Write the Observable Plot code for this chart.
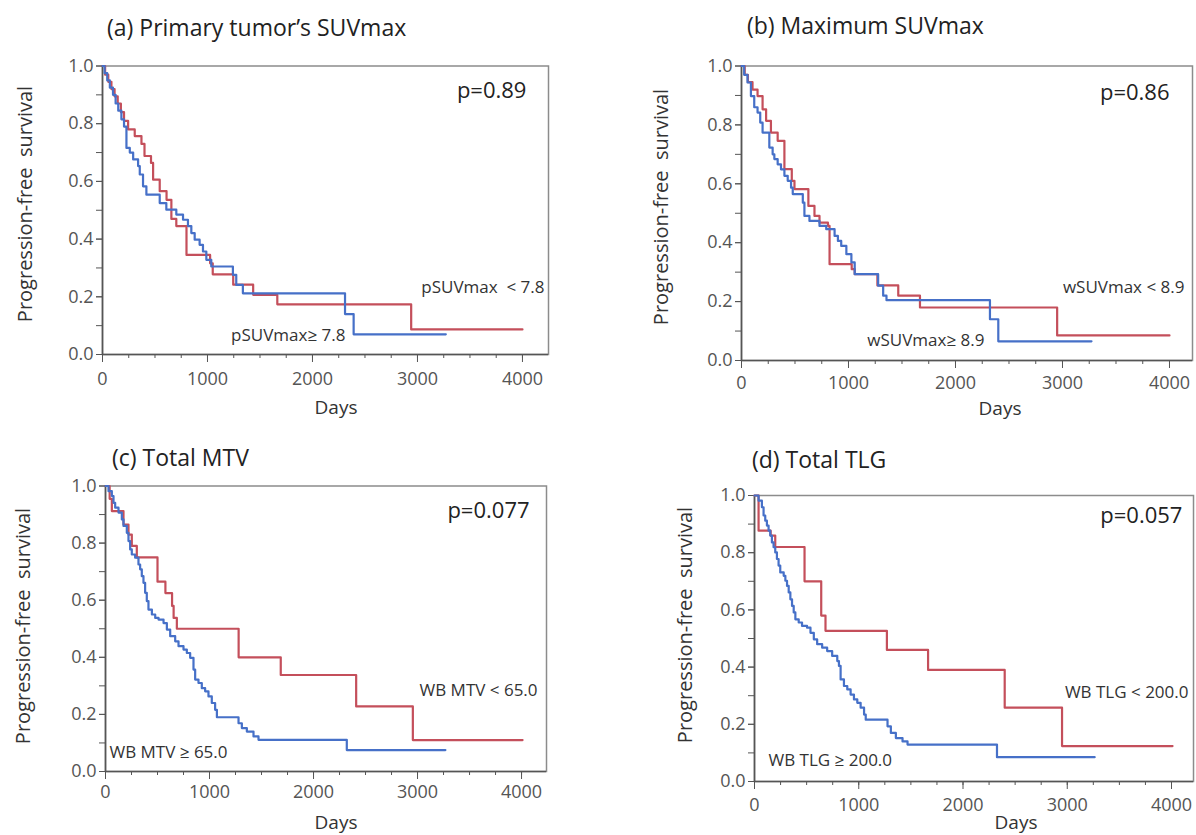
<!DOCTYPE html>
<html><head><meta charset="utf-8">
<script src="https://cdn.jsdelivr.net/npm/d3@7"></script>
<script src="https://cdn.jsdelivr.net/npm/@observablehq/plot@0.6"></script>
<style>
body{margin:0;background:#fff;}
#root{position:relative;width:1196px;height:835px;overflow:hidden;font-family:"Open Sans",Lato,sans-serif;background:#fff;}
.cell{position:absolute;}
.title{position:absolute;font-size:23px;color:#222;white-space:pre;line-height:1;transform:translateY(-50%);}
.ylab{position:absolute;font-size:20px;color:#333;white-space:pre;line-height:1;transform:translate(-50%,-50%) rotate(-90deg);}
.xlab{position:absolute;font-size:19px;color:#333;line-height:1;transform:translate(-50%,-50%);}
</style></head><body><div id="root"></div>
<script>
// ---- data: [days, progression-free survival] step points ----
const aLow = [[0,1],[25,0.97],[55,0.945],[85,0.92],[115,0.895],[145,0.87],[175,0.84],[205,0.81],[244,0.78],[307,0.757],[371,0.73],[400,0.688],[462,0.664],[482,0.606],[545,0.566],[610,0.536],[656,0.47],[703,0.445],[800,0.345],[1025,0.316],[1050,0.278],[1245,0.242],[1435,0.207],[1665,0.174],[2940,0.087],[4000,0.087]];
const aHigh = [[0,1],[20,0.975],[45,0.95],[70,0.925],[100,0.90],[125,0.87],[150,0.845],[180,0.815],[205,0.79],[228,0.716],[260,0.70],[292,0.676],[339,0.653],[355,0.624],[386,0.583],[418,0.554],[545,0.525],[608,0.502],[703,0.485],[767,0.467],[814,0.445],[846,0.421],[878,0.398],[925,0.38],[957,0.357],[989,0.328],[1036,0.305],[1242,0.276],[1274,0.241],[1337,0.212],[2310,0.14],[2392,0.07],[3270,0.07]];
const bLow = [[0,1],[30,0.97],[60,0.945],[103,0.92],[150,0.898],[197,0.853],[230,0.814],[275,0.774],[338,0.746],[401,0.65],[470,0.61],[495,0.582],[625,0.525],[682,0.491],[729,0.468],[808,0.457],[823,0.327],[1030,0.31],[1058,0.293],[1270,0.255],[1465,0.22],[1668,0.18],[2950,0.085],[4000,0.085]];
const bHigh = [[0,1],[25,0.97],[56,0.944],[88,0.898],[119,0.86],[150,0.842],[175,0.808],[197,0.774],[260,0.723],[291,0.70],[307,0.684],[338,0.666],[369,0.649],[401,0.627],[432,0.61],[463,0.587],[479,0.565],[573,0.536],[588,0.491],[635,0.474],[729,0.457],[792,0.446],[870,0.423],[901,0.406],[932,0.389],[980,0.361],[1027,0.333],[1058,0.293],[1277,0.254],[1324,0.22],[1355,0.205],[2322,0.14],[2400,0.065],[3271,0.065]];
const cLow = [[0,1],[40,0.955],[61,0.912],[173,0.865],[221,0.83],[253,0.79],[301,0.75],[500,0.665],[576,0.625],[640,0.58],[655,0.538],[686,0.50],[1280,0.40],[1685,0.338],[2410,0.228],[2955,0.11],[4010,0.11]];
const cHigh = [[0,1],[29,0.982],[61,0.965],[77,0.941],[93,0.924],[125,0.907],[157,0.883],[173,0.86],[205,0.836],[221,0.807],[237,0.778],[253,0.76],[285,0.749],[317,0.725],[333,0.708],[349,0.684],[365,0.661],[381,0.626],[397,0.597],[413,0.567],[446,0.55],[478,0.538],[510,0.532],[558,0.52],[590,0.497],[622,0.474],[670,0.456],[702,0.439],[750,0.427],[782,0.415],[814,0.398],[846,0.357],[862,0.322],[894,0.31],[926,0.292],[958,0.281],[990,0.263],[1022,0.24],[1054,0.216],[1071,0.19],[1279,0.169],[1311,0.152],[1359,0.14],[1423,0.123],[1471,0.111],[2320,0.075],[3268,0.075]];
const dLow = [[0,1],[39,0.877],[155,0.86],[199,0.82],[480,0.70],[640,0.58],[681,0.527],[1270,0.46],[1665,0.39],[2400,0.258],[2950,0.124],[4010,0.124]];
const dHigh = [[0,1],[39,0.982],[71,0.959],[87,0.93],[103,0.912],[119,0.895],[135,0.877],[151,0.86],[167,0.836],[183,0.819],[199,0.801],[215,0.778],[231,0.755],[247,0.731],[280,0.719],[296,0.702],[312,0.684],[328,0.661],[344,0.637],[360,0.614],[376,0.591],[392,0.567],[424,0.556],[456,0.544],[504,0.538],[537,0.52],[569,0.497],[601,0.48],[649,0.468],[697,0.456],[745,0.439],[794,0.421],[810,0.404],[826,0.357],[858,0.334],[890,0.322],[922,0.304],[954,0.287],[986,0.275],[1018,0.258],[1051,0.234],[1067,0.216],[1276,0.193],[1308,0.17],[1356,0.152],[1420,0.14],[1468,0.129],[2326,0.085],[3263,0.085]];

const titles = ["(a) Primary tumor\u2019s SUVmax", "(b) Maximum SUVmax", "(c) Total MTV", "(d) Total TLG"];
const pValues = ["p=0.89", "p=0.86", "p=0.077", "p=0.057"];
const lowLabels = ["pSUVmax  < 7.8", "wSUVmax < 8.9", "WB MTV < 65.0", "WB TLG < 200.0"];
const highLabels = ["pSUVmax\u2265 7.8", "wSUVmax\u2265 8.9", "WB MTV \u2265 65.0", "WB TLG \u2265 200.0"];
const yLabel = "Progression-free  survival";
const xLabel = "Days";
const xTicks = [0, 1000, 2000, 3000, 4000];
const xMinorTicks = d3.range(0, 17).map(i => i * 250);
const yTicks = [0, 0.2, 0.4, 0.6, 0.8, 1.0];
const yMinorTicks = d3.range(0, 11).map(i => i / 10);

const RED = "#c44f5b", BLUE = "#4670c8";

// ---- layout ----
const panels = [
  {left:0, top:0, w:598, h:418, mL:102, mR:50, mT:65.5, mB:64, xMax:4248, pad:10,
   low:aLow, high:aHigh, pPos:[4038,0.912], lowPos:[4210,0.232], highPos:[2314,0.066], highAnchor:"end",
   title:[107,27], ylab:[25,204], xlab:[336,407]},
  {left:598, top:0, w:598, h:418, mL:143, mR:4, mT:65.5, mB:58, xMax:4215, pad:8,
   low:bLow, high:bHigh, pPos:[4000,0.907], lowPos:[4140,0.248], highPos:[2271,0.068], highAnchor:"end",
   title:[747,25], ylab:[661,207], xlab:[1000,408]},
  {left:0, top:418, w:598, h:417, mL:105, mR:52, mT:67.5, mB:64, xMax:4240, pad:6,
   low:cLow, high:cHigh, pPos:[4077,0.914], lowPos:[4154,0.284], highPos:[38,0.067], highAnchor:"start",
   title:[112,457], ylab:[23,626], xlab:[336,822]},
  {left:598, top:418, w:598, h:417, mL:156, mR:3, mT:77, mB:54, xMax:4211, pad:9,
   low:dLow, high:dHigh, pPos:[4105,0.93], lowPos:[4163,0.311], highPos:[134,0.073], highAnchor:"start",
   title:[752,459], ylab:[685,625], xlab:[1016,822]}
];

const root = document.getElementById("root");
const fx = d => d[0], fy = d => d[1];

panels.forEach((p, i) => {
  const chart = Plot.plot({
    width: p.w, height: p.h,
    marginLeft: p.mL, marginRight: p.mR, marginTop: p.mT, marginBottom: p.mB,
    style: {background: "transparent", overflow: "visible", fontFamily: "'Open Sans', Lato, sans-serif"},
    x: {domain: [0, p.xMax], label: null},
    y: {domain: [0, 1], label: null},
    marks: [
      Plot.frame({stroke: "#8c8c8c", strokeWidth: 1.5}),
      Plot.axisX({ticks: xMinorTicks, tickSize: 4, tickFormat: () => "", color: "#555", label: null}),
      Plot.axisX({ticks: xTicks, tickSize: 8, tickPadding: p.pad, fontSize: 18, color: "#555", tickFormat: d3.format("d"), label: null}),
      Plot.axisY({ticks: yMinorTicks, tickSize: 6, tickFormat: () => "", color: "#555", label: null}),
      Plot.axisY({ticks: yTicks, tickSize: 6, tickPadding: 3, fontSize: 18, color: "#555", tickFormat: d3.format(".1f"), label: null}),
      Plot.ruleX([0], {stroke: "#555", strokeWidth: 1.6}),
      Plot.ruleY([0], {stroke: "#555", strokeWidth: 1.6}),
      Plot.line(p.low, {x: fx, y: fy, curve: "step-after", stroke: RED, strokeWidth: 2.2}),
      Plot.line(p.high, {x: fx, y: fy, curve: "step-after", stroke: BLUE, strokeWidth: 2.2}),
      Plot.text([{x: p.pPos[0], y: p.pPos[1], t: pValues[i]}], {x: "x", y: "y", text: "t", textAnchor: "end", fontSize: 22, fill: "#222"}),
      Plot.text([{x: p.lowPos[0], y: p.lowPos[1], t: lowLabels[i]}], {x: "x", y: "y", text: "t", textAnchor: "end", fontSize: 17, fill: "#333"}),
      Plot.text([{x: p.highPos[0], y: p.highPos[1], t: highLabels[i]}], {x: "x", y: "y", text: "t", textAnchor: p.highAnchor, fontSize: 17, fill: "#333"})
    ]
  });
  const cell = document.createElement("div");
  cell.className = "cell";
  cell.style.left = p.left + "px";
  cell.style.top = p.top + "px";
  cell.appendChild(chart);
  root.appendChild(cell);

  const t = document.createElement("div");
  t.className = "title"; t.textContent = titles[i];
  t.style.left = p.title[0] + "px"; t.style.top = p.title[1] + "px";
  root.appendChild(t);

  const yl = document.createElement("div");
  yl.className = "ylab"; yl.textContent = yLabel;
  yl.style.left = p.ylab[0] + "px"; yl.style.top = p.ylab[1] + "px";
  root.appendChild(yl);

  const xl = document.createElement("div");
  xl.className = "xlab"; xl.textContent = xLabel;
  xl.style.left = p.xlab[0] + "px"; xl.style.top = p.xlab[1] + "px";
  root.appendChild(xl);
});
</script></body></html>
